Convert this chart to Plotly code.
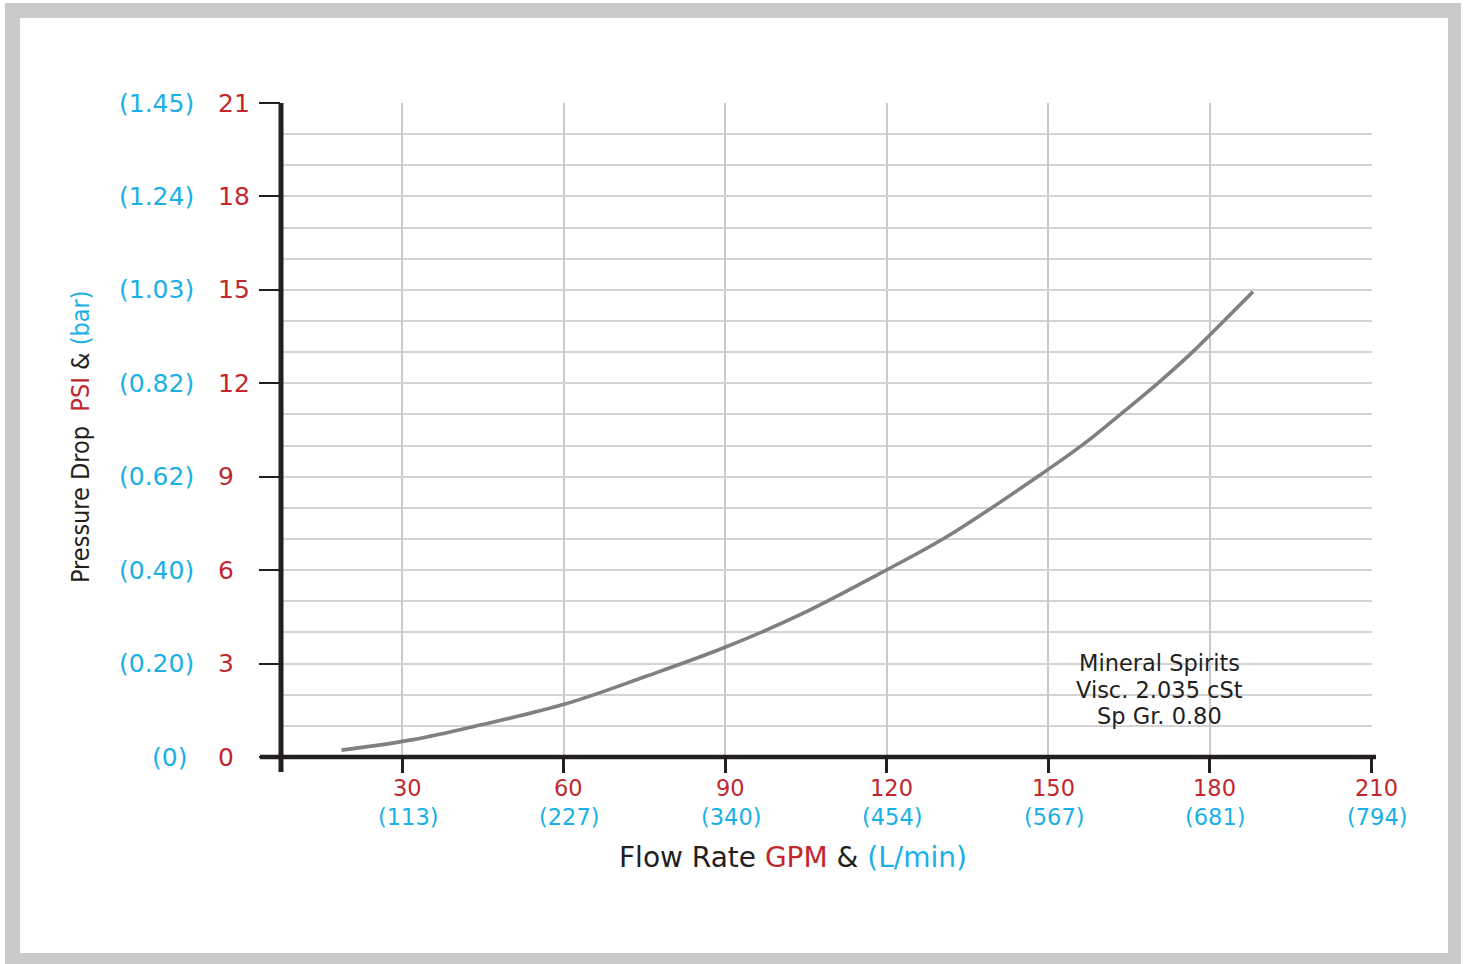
import plotly.graph_objects as go

# ---- data ----
flow_gpm = [18.7, 31.7, 43.8, 60.2, 75.4, 89.6, 103.8, 119.0, 131.1, 147.9, 156.7, 163.2, 170.3, 176.8, 182.4, 188.0]
drop_psi = [0.22, 0.55, 1.00, 1.70, 2.60, 3.50, 4.56, 5.92, 7.07, 8.99, 10.07, 10.98, 12.00, 13.01, 13.97, 14.94]

psi_ticks = [0, 3, 6, 9, 12, 15, 18, 21]
bar_labels = ["(0)", "(0.20)", "(0.40)", "(0.62)", "(0.82)", "(1.03)", "(1.24)", "(1.45)"]
gpm_ticks = [30, 60, 90, 120, 150, 180, 210]
lpm_labels = ["(113)", "(227)", "(340)", "(454)", "(567)", "(681)", "(794)"]

fluid_note = ["Mineral Spirits", "Visc. 2.035 cSt", "Sp Gr. 0.80"]

# ---- layout geometry (pixels) ----
W, H = 1468, 964
L, R, T, B = 281, 1372, 103, 757
PW, PH = R - L, B - T

RED = "#c1272d"
BLUE = "#1ab0e6"
INK = "#231f20"
FRAME = "#c9cacc"


def px(xp):
    return (xp - L) / PW


def py(yp):
    return (B - yp) / PH


fig = go.Figure()
fig.add_trace(go.Scatter(
    x=flow_gpm, y=drop_psi, mode="lines",
    line=dict(color="#808080", width=3.6, shape="spline", smoothing=1.0),
    hoverinfo="skip", showlegend=False,
))

shapes = [
    # grey frame and white card
    dict(type="rect", xref="paper", yref="paper", x0=px(5), x1=px(1461), y0=py(966), y1=py(3),
         fillcolor=FRAME, line=dict(width=0), layer="below"),
    dict(type="rect", xref="paper", yref="paper", x0=px(20), x1=px(1448), y0=py(953), y1=py(18),
         fillcolor="white", line=dict(width=0), layer="below"),
    # white patch behind the note
    dict(type="rect", xref="paper", yref="paper", x0=px(1045), x1=px(1285), y0=py(713), y1=py(651),
         fillcolor="white", line=dict(width=0), layer="between"),
    # heavy axis lines
    dict(type="line", xref="paper", yref="paper", x0=0, x1=0, y0=py(772), y1=1,
         line=dict(color=INK, width=5), layer="above"),
    dict(type="line", xref="paper", yref="paper", x0=px(260), x1=px(1376), y0=0, y1=0,
         line=dict(color=INK, width=4.5), layer="above"),
]

annotations = []
# y tick labels: bar (blue) and psi (red)
for v, b in zip(psi_ticks, bar_labels):
    bx = 150 if v == 0 else 117
    annotations.append(dict(x=px(bx), xref="paper", y=v, yref="y", text=b, showarrow=False,
                            xanchor="left", yanchor="middle",
                            font=dict(family="DejaVu Sans", size=25, color=BLUE)))
    annotations.append(dict(x=px(216), xref="paper", y=v, yref="y", text=str(v), showarrow=False,
                            xanchor="left", yanchor="middle",
                            font=dict(family="DejaVu Sans", size=25, color=RED)))
# x tick labels: gpm (red) and L/min (blue)
for v, l in zip(gpm_ticks, lpm_labels):
    annotations.append(dict(x=v, xref="x", y=0, yref="paper", text=str(v), showarrow=False,
                            xanchor="center", yanchor="middle", yshift=-31, xshift=5, borderpad=0,
                            font=dict(family="DejaVu Sans", size=22.5, color=RED)))
    annotations.append(dict(x=v, xref="x", y=0, yref="paper", text=l, showarrow=False,
                            xanchor="center", yanchor="middle", yshift=-60, xshift=6, borderpad=0,
                            font=dict(family="DejaVu Sans", size=22.5, color=BLUE)))

# axis titles
annotations.append(dict(
    x=px(80), xref="paper", y=py(437), yref="paper", textangle=-90, showarrow=False,
    xanchor="center", yanchor="middle",
    text=("Pressure Drop&nbsp;&nbsp;<span style='color:%s'>PSI</span> &amp; "
          "<span style='color:%s'>(bar)</span>") % (RED, BLUE),
    font=dict(family="Liberation Sans Narrow, DejaVu Sans Condensed, sans-serif", size=25, color=INK),
))
annotations.append(dict(
    x=px(793), xref="paper", y=py(857), yref="paper", showarrow=False,
    xanchor="center", yanchor="middle",
    text=("Flow Rate <span style='color:%s'>GPM</span> &amp; "
          "<span style='color:%s'>(L/min)</span>") % (RED, BLUE),
    font=dict(family="DejaVu Sans", size=28, color=INK),
))
# fluid note, one line per annotation
for i, line in enumerate(fluid_note):
    annotations.append(dict(
        x=px(1159), xref="paper", y=py(663), yref="paper", yshift=-26.5 * i, showarrow=False,
        xanchor="center", yanchor="middle", text=line, borderpad=0,
        font=dict(family="DejaVu Sans", size=22.5, color=INK),
    ))

fig.update_layout(
    width=W, height=H,
    margin=dict(l=L, r=W - R, t=T, b=H - B, pad=0),
    paper_bgcolor="white", plot_bgcolor="rgba(0,0,0,0)",
    shapes=shapes, annotations=annotations, showlegend=False,
    xaxis=dict(range=[7.47, 210.1], tickmode="array", tickvals=gpm_ticks, showticklabels=False,
               ticks="outside", ticklen=15, tickwidth=3, tickcolor=INK,
               showgrid=True, gridcolor="#cacaca", gridwidth=1.5,
               zeroline=False, showline=False, fixedrange=True),
    yaxis=dict(range=[0, 21], tickmode="array", tickvals=psi_ticks, showticklabels=False,
               ticks="outside", ticklen=21, tickwidth=2, tickcolor=INK,
               showgrid=True, gridcolor="#d4d4d4", gridwidth=1.5,
               minor=dict(dtick=1, tick0=0, showgrid=True, gridcolor="#d4d4d4", gridwidth=1.5, ticks=""),
               zeroline=False, showline=False, fixedrange=True),
)

fig.write_html("out.html", config={"displayModeBar": False},
               post_script="document.body.style.margin='0px';document.body.style.overflow='hidden';")
